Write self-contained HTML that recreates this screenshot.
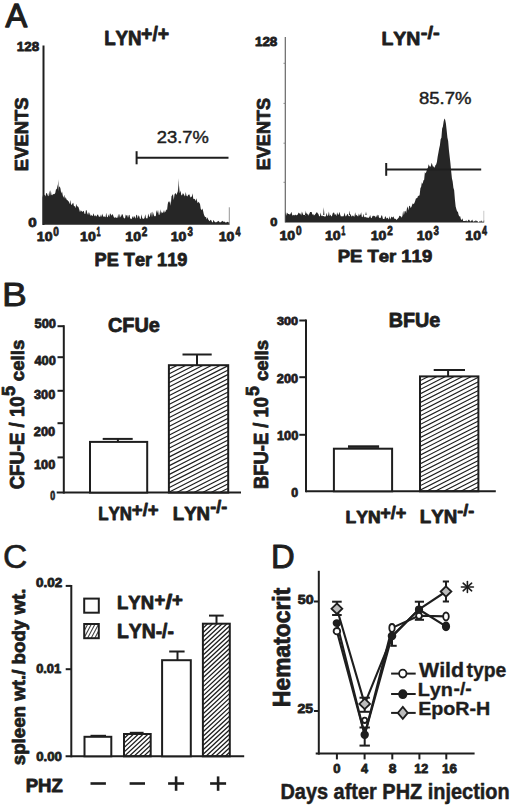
<!DOCTYPE html>
<html><head><meta charset="utf-8"><style>
html,body{margin:0;padding:0;background:#fff;overflow:hidden;width:520px;height:805px;}
svg{display:block;}
text{font-family:"Liberation Sans",sans-serif;font-kerning:none;}
</style></head><body>
<svg width="520" height="805" viewBox="0 0 520 805">
<rect width="520" height="805" fill="#fff"/>
<text transform="translate(5.39 27.05) scale(0.9660 1)" font-size="33.72" font-weight="normal" fill="#1e1e1e" stroke="#1e1e1e" stroke-width="1.30" stroke-linejoin="round">A</text>
<text transform="translate(104.15 45.20) scale(0.9704 1)" font-size="19.33" font-weight="bold" fill="#1e1e1e" stroke="#1e1e1e" stroke-width="0.80" stroke-linejoin="round">LYN</text>
<text transform="translate(141.08 40.70) scale(0.9714 1)" font-size="20.01" font-weight="bold" fill="#1e1e1e" stroke="#1e1e1e" stroke-width="0.80" stroke-linejoin="round">+/+</text>
<text transform="translate(16.86 50.77) scale(1.0312 1)" font-size="12.99" font-weight="bold" fill="#1e1e1e" stroke="#1e1e1e" stroke-width="0.80" stroke-linejoin="round">128</text>
<text transform="translate(28.12 171.13) rotate(-90) scale(0.9827 1)" font-size="18.79" font-weight="bold" fill="#1e1e1e" stroke="#1e1e1e" stroke-width="0.80" stroke-linejoin="round">EVENTS</text>
<text transform="translate(28.30 226.77) scale(1.1651 1)" font-size="12.99" font-weight="bold" fill="#1e1e1e" stroke="#1e1e1e" stroke-width="0.80" stroke-linejoin="round">0</text>
<line x1="43.50" y1="45.50" x2="43.50" y2="225.00" stroke="#1e1e1e" stroke-width="2.00"/>
<path d="M42.50 224.80 L42.50 197.51 L43.25 193.86 L44.00 195.45 L44.75 194.48 L45.50 196.51 L46.25 192.94 L47.00 193.24 L47.75 195.42 L48.50 196.15 L49.25 190.51 L50.00 196.00 L50.75 189.98 L51.50 195.12 L52.25 195.19 L53.00 194.06 L53.75 194.20 L54.50 193.94 L55.25 192.93 L56.00 189.33 L56.75 189.21 L57.50 184.32 L58.25 191.65 L59.00 187.38 L59.75 186.18 L60.50 188.78 L61.25 193.61 L62.00 191.25 L62.75 195.25 L63.50 197.74 L64.25 194.81 L65.00 198.88 L65.75 197.03 L66.50 199.55 L67.25 200.04 L68.00 200.67 L68.75 201.56 L69.50 204.29 L70.25 199.94 L71.00 204.31 L71.75 204.94 L72.50 203.47 L73.25 202.81 L74.00 206.22 L74.75 205.88 L75.50 208.32 L76.25 203.82 L77.00 206.47 L77.75 206.16 L78.50 207.19 L79.25 209.43 L80.00 212.37 L80.75 210.18 L81.50 210.97 L82.25 211.96 L83.00 211.26 L83.75 210.84 L84.50 213.85 L85.25 213.96 L86.00 209.86 L86.75 210.80 L87.50 214.64 L88.25 212.04 L89.00 215.34 L89.75 212.22 L90.50 215.97 L91.25 214.87 L92.00 215.92 L92.75 215.82 L93.50 213.13 L94.25 215.51 L95.00 216.42 L95.75 215.01 L96.50 216.73 L97.25 214.68 L98.00 214.52 L98.75 216.57 L99.50 216.83 L100.25 216.85 L101.00 214.17 L101.75 216.97 L102.50 213.43 L103.25 216.91 L104.00 216.20 L104.75 216.66 L105.50 217.37 L106.25 212.63 L107.00 217.09 L107.75 217.19 L108.50 214.37 L109.25 217.02 L110.00 213.25 L110.75 214.34 L111.50 215.67 L112.25 214.10 L113.00 215.10 L113.75 216.98 L114.50 217.91 L115.25 216.71 L116.00 218.26 L116.75 217.60 L117.50 217.75 L118.25 213.83 L119.00 217.96 L119.75 213.75 L120.50 217.47 L121.25 216.12 L122.00 214.07 L122.75 214.70 L123.50 217.42 L124.25 218.36 L125.00 218.46 L125.75 214.41 L126.50 215.75 L127.25 215.10 L128.00 217.91 L128.75 215.16 L129.50 214.74 L130.25 218.84 L131.00 218.59 L131.75 219.15 L132.50 215.92 L133.25 218.21 L134.00 215.69 L134.75 216.88 L135.50 218.77 L136.25 215.05 L137.00 214.74 L137.75 218.56 L138.50 215.16 L139.25 216.22 L140.00 219.08 L140.75 218.77 L141.50 214.13 L142.25 218.52 L143.00 218.48 L143.75 218.91 L144.50 218.00 L145.25 214.36 L146.00 218.10 L146.75 218.59 L147.50 218.26 L148.25 213.57 L149.00 216.28 L149.75 217.22 L150.50 213.54 L151.25 212.05 L152.00 217.29 L152.75 211.45 L153.50 213.93 L154.25 216.46 L155.00 215.84 L155.75 216.52 L156.50 209.96 L157.25 212.98 L158.00 209.82 L158.75 214.73 L159.50 214.75 L160.25 209.37 L161.00 213.72 L161.75 211.56 L162.50 212.99 L163.25 212.58 L164.00 210.02 L164.75 212.69 L165.50 211.38 L166.25 209.34 L167.00 210.47 L167.75 204.08 L168.50 201.23 L169.25 202.82 L170.00 200.82 L170.75 205.87 L171.50 196.21 L172.25 195.14 L173.00 194.07 L173.75 199.94 L174.50 194.49 L175.25 193.23 L176.00 193.50 L176.75 195.07 L177.50 191.25 L178.25 194.54 L179.00 185.54 L179.75 193.14 L180.50 190.50 L181.25 194.91 L182.00 195.58 L182.75 193.26 L183.50 193.76 L184.25 195.36 L185.00 196.53 L185.75 192.08 L186.50 195.71 L187.25 196.45 L188.00 195.24 L188.75 194.48 L189.50 194.55 L190.25 197.64 L191.00 196.30 L191.75 197.17 L192.50 193.37 L193.25 198.47 L194.00 199.19 L194.75 198.70 L195.50 201.26 L196.25 198.35 L197.00 200.64 L197.75 203.14 L198.50 201.69 L199.25 202.87 L200.00 203.93 L200.75 208.85 L201.50 210.30 L202.25 208.39 L203.00 210.38 L203.75 214.02 L204.50 215.95 L205.25 217.37 L206.00 216.67 L206.75 219.38 L207.50 217.31 L208.25 219.49 L209.00 220.54 L209.75 221.31 L210.50 219.67 L211.25 220.37 L212.00 222.05 L212.75 222.46 L213.50 219.84 L214.25 221.23 L215.00 222.14 L215.75 222.25 L216.50 222.17 L217.25 221.51 L218.00 221.46 L218.75 220.71 L219.50 222.15 L220.25 222.21 L221.00 222.31 L221.75 221.33 L222.50 220.69 L223.25 222.06 L224.00 221.30 L224.75 221.94 L225.50 222.59 L226.25 222.56 L227.00 222.10 L227.75 221.66 L228.50 222.42 L229.25 221.69 L229.60 224.80 Z" fill="#262626" stroke="none" stroke-width="0.00"/>
<path d="M177.7 196 L178.4 178.3 L179.1 196 Z" fill="#262626" stroke="none" stroke-width="0.00"/>
<path d="M57.6 192 L58.2 179.5 L58.8 192 Z" fill="#262626" stroke="none" stroke-width="0.00"/>
<line x1="229.30" y1="207.30" x2="229.30" y2="224.50" stroke="#8a8a8a" stroke-width="0.90"/>
<line x1="136.60" y1="151.20" x2="136.60" y2="164.30" stroke="#1e1e1e" stroke-width="2.00"/>
<line x1="136.60" y1="157.70" x2="228.50" y2="157.70" stroke="#1e1e1e" stroke-width="2.00"/>
<text transform="translate(156.70 142.71) scale(1.1173 1)" font-size="16.45" font-weight="normal" fill="#1e1e1e" stroke="#1e1e1e" stroke-width="0.45" stroke-linejoin="round">23.7%</text>
<text transform="translate(36.81 241.07) scale(1.0721 1)" font-size="13.14" font-weight="bold" fill="#1e1e1e" stroke="#1e1e1e" stroke-width="0.80" stroke-linejoin="round">10</text>
<text transform="translate(53.30 235.78) scale(0.7940 1)" font-size="12.71" font-weight="bold" fill="#1e1e1e" stroke="#1e1e1e" stroke-width="0.80" stroke-linejoin="round">0</text>
<text transform="translate(80.11 241.07) scale(1.0721 1)" font-size="13.14" font-weight="bold" fill="#1e1e1e" stroke="#1e1e1e" stroke-width="0.80" stroke-linejoin="round">10</text>
<text transform="translate(96.54 235.90) scale(0.5585 1)" font-size="13.08" font-weight="bold" fill="#1e1e1e" stroke="#1e1e1e" stroke-width="0.80" stroke-linejoin="round">1</text>
<text transform="translate(125.31 241.07) scale(1.0721 1)" font-size="13.14" font-weight="bold" fill="#1e1e1e" stroke="#1e1e1e" stroke-width="0.80" stroke-linejoin="round">10</text>
<text transform="translate(141.85 235.90) scale(0.7735 1)" font-size="12.89" font-weight="bold" fill="#1e1e1e" stroke="#1e1e1e" stroke-width="0.80" stroke-linejoin="round">2</text>
<text transform="translate(170.71 241.07) scale(1.0721 1)" font-size="13.14" font-weight="bold" fill="#1e1e1e" stroke="#1e1e1e" stroke-width="0.80" stroke-linejoin="round">10</text>
<text transform="translate(187.38 235.76) scale(0.7612 1)" font-size="12.69" font-weight="bold" fill="#1e1e1e" stroke="#1e1e1e" stroke-width="0.80" stroke-linejoin="round">3</text>
<text transform="translate(218.71 241.07) scale(1.0721 1)" font-size="13.14" font-weight="bold" fill="#1e1e1e" stroke="#1e1e1e" stroke-width="0.80" stroke-linejoin="round">10</text>
<text transform="translate(235.46 235.90) scale(0.6850 1)" font-size="13.08" font-weight="bold" fill="#1e1e1e" stroke="#1e1e1e" stroke-width="0.80" stroke-linejoin="round">4</text>
<text transform="translate(94.59 265.62) scale(1.0114 1)" font-size="17.94" font-weight="bold" fill="#1e1e1e" stroke="#1e1e1e" stroke-width="0.80" stroke-linejoin="round">PE Ter 119</text>
<text transform="translate(381.40 45.00) scale(1.0297 1)" font-size="18.90" font-weight="bold" fill="#1e1e1e" stroke="#1e1e1e" stroke-width="0.80" stroke-linejoin="round">LYN</text>
<text transform="translate(420.71 38.72) scale(1.0478 1)" font-size="19.20" font-weight="bold" fill="#1e1e1e" stroke="#1e1e1e" stroke-width="0.80" stroke-linejoin="round">-/-</text>
<text transform="translate(254.96 46.38) scale(1.1294 1)" font-size="11.86" font-weight="bold" fill="#1e1e1e" stroke="#1e1e1e" stroke-width="0.80" stroke-linejoin="round">128</text>
<text transform="translate(270.22 170.21) rotate(-90) scale(0.9755 1)" font-size="18.50" font-weight="bold" fill="#1e1e1e" stroke="#1e1e1e" stroke-width="0.80" stroke-linejoin="round">EVENTS</text>
<text transform="translate(270.29 226.49) scale(1.1351 1)" font-size="11.30" font-weight="bold" fill="#1e1e1e" stroke="#1e1e1e" stroke-width="0.80" stroke-linejoin="round">0</text>
<line x1="285.30" y1="37.00" x2="285.30" y2="222.50" stroke="#666" stroke-width="1.20"/>
<line x1="283.50" y1="63.30" x2="285.30" y2="63.30" stroke="#888" stroke-width="1.00"/>
<line x1="283.50" y1="103.40" x2="285.30" y2="103.40" stroke="#888" stroke-width="1.00"/>
<line x1="283.50" y1="143.20" x2="285.30" y2="143.20" stroke="#888" stroke-width="1.00"/>
<line x1="283.50" y1="182.30" x2="285.30" y2="182.30" stroke="#888" stroke-width="1.00"/>
<path d="M285.40 222.60 L285.40 211.67 L286.15 215.72 L286.90 212.57 L287.65 213.50 L288.40 214.08 L289.15 213.96 L289.90 214.87 L290.65 213.61 L291.40 211.67 L292.15 214.75 L292.90 215.70 L293.65 214.70 L294.40 215.41 L295.15 214.57 L295.90 215.37 L296.65 215.17 L297.40 214.93 L298.15 213.56 L298.90 212.47 L299.65 213.66 L300.40 213.41 L301.15 215.61 L301.90 211.60 L302.65 213.44 L303.40 214.93 L304.15 215.05 L304.90 214.95 L305.65 215.60 L306.40 212.27 L307.15 214.69 L307.90 213.52 L308.65 215.70 L309.40 213.49 L310.15 212.10 L310.90 212.10 L311.65 211.97 L312.40 214.81 L313.15 214.06 L313.90 215.42 L314.65 215.04 L315.40 213.93 L316.15 213.05 L316.90 212.07 L317.65 213.18 L318.40 213.90 L319.15 216.14 L319.90 216.18 L320.65 212.52 L321.40 216.21 L322.15 215.39 L322.90 216.19 L323.65 216.05 L324.40 216.51 L325.15 216.45 L325.90 216.17 L326.65 212.80 L327.40 216.23 L328.15 215.21 L328.90 211.38 L329.65 216.26 L330.40 214.49 L331.15 216.19 L331.90 216.36 L332.65 213.51 L333.40 212.49 L334.15 212.78 L334.90 214.99 L335.65 213.99 L336.40 216.34 L337.15 212.34 L337.90 214.51 L338.65 214.76 L339.40 211.71 L340.15 214.43 L340.90 216.55 L341.65 216.13 L342.40 216.35 L343.15 216.59 L343.90 215.41 L344.65 212.49 L345.40 216.24 L346.15 216.29 L346.90 214.71 L347.65 213.85 L348.40 215.66 L349.15 216.45 L349.90 215.52 L350.65 213.82 L351.40 216.52 L352.15 216.28 L352.90 215.26 L353.65 216.32 L354.40 216.80 L355.15 212.34 L355.90 215.79 L356.65 214.77 L357.40 215.91 L358.15 216.48 L358.90 213.53 L359.65 215.71 L360.40 214.86 L361.15 212.19 L361.90 217.30 L362.65 217.07 L363.40 213.79 L364.15 217.38 L364.90 216.47 L365.65 217.32 L366.40 217.46 L367.15 217.13 L367.90 217.89 L368.65 217.65 L369.40 216.99 L370.15 214.95 L370.90 217.75 L371.65 218.32 L372.40 216.32 L373.15 215.53 L373.90 216.29 L374.65 215.80 L375.40 217.77 L376.15 215.35 L376.90 217.21 L377.65 214.70 L378.40 215.01 L379.15 218.24 L379.90 217.60 L380.65 218.17 L381.40 215.32 L382.15 215.81 L382.90 218.76 L383.65 219.00 L384.40 218.94 L385.15 216.07 L385.90 217.15 L386.65 218.70 L387.40 217.47 L388.15 218.49 L388.90 219.39 L389.65 215.97 L390.40 219.50 L391.15 217.31 L391.90 216.44 L392.65 217.65 L393.40 216.13 L394.15 218.34 L394.90 218.91 L395.65 218.86 L396.40 220.12 L397.15 219.26 L397.90 218.59 L398.65 217.83 L399.40 215.39 L400.15 216.50 L400.90 215.89 L401.65 217.68 L402.40 216.12 L403.15 210.84 L403.90 215.25 L404.65 211.29 L405.40 210.73 L406.15 212.92 L406.90 208.44 L407.65 206.32 L408.40 210.55 L409.15 205.96 L409.90 205.75 L410.65 208.08 L411.40 207.11 L412.15 204.84 L412.90 203.24 L413.65 204.22 L414.40 202.94 L415.15 200.96 L415.90 198.55 L416.65 198.37 L417.40 197.64 L418.15 195.39 L418.90 196.23 L419.65 194.72 L420.40 188.31 L421.15 186.84 L421.90 182.29 L422.65 183.90 L423.40 180.43 L424.15 179.82 L424.90 172.02 L425.65 173.41 L426.40 171.39 L427.15 168.91 L427.90 167.69 L428.65 164.34 L429.40 165.98 L430.15 167.11 L430.90 165.67 L431.65 162.75 L432.40 165.08 L433.15 167.28 L433.90 166.10 L434.65 167.90 L435.40 165.25 L436.15 164.62 L436.90 161.91 L437.65 156.75 L438.40 152.77 L439.15 148.47 L439.90 145.18 L440.65 139.18 L441.40 137.84 L442.15 128.55 L442.90 126.60 L443.65 121.44 L444.40 118.60 L445.15 119.72 L445.90 123.56 L446.65 130.23 L447.40 137.47 L448.15 140.99 L448.90 149.90 L449.65 156.50 L450.40 163.01 L451.15 171.10 L451.90 178.30 L452.65 181.50 L453.40 187.78 L454.15 190.34 L454.90 199.51 L455.65 206.38 L456.40 209.15 L457.15 211.44 L457.90 211.82 L458.65 214.88 L459.40 216.56 L460.15 216.23 L460.90 219.17 L461.65 219.99 L462.40 218.26 L463.15 221.06 L463.90 221.07 L464.65 221.06 L465.40 221.04 L466.15 220.28 L466.90 221.20 L467.65 221.27 L468.40 219.67 L469.15 219.82 L469.90 221.07 L470.65 221.46 L471.40 220.67 L472.15 219.44 L472.90 221.23 L473.65 221.68 L474.40 221.02 L475.15 221.44 L475.90 220.06 L476.65 221.30 L477.40 220.95 L478.15 222.13 L478.90 222.10 L479.65 221.15 L480.40 221.78 L481.15 220.31 L481.90 221.83 L482.65 221.67 L483.40 220.77 L484.15 220.19 L484.20 222.60 Z" fill="#262626" stroke="none" stroke-width="0.00"/>
<path d="M323.20 215 L323.80 207.30 L324.40 215 Z" fill="#262626" stroke="none" stroke-width="0.00"/>
<path d="M304.90 215 L305.50 210.50 L306.10 215 Z" fill="#262626" stroke="none" stroke-width="0.00"/>
<path d="M348.90 215 L349.50 210.80 L350.10 215 Z" fill="#262626" stroke="none" stroke-width="0.00"/>
<path d="M365.40 215 L366.00 211.50 L366.60 215 Z" fill="#262626" stroke="none" stroke-width="0.00"/>
<line x1="483.80" y1="210.80" x2="483.80" y2="222.00" stroke="#c4c4c4" stroke-width="0.90"/>
<line x1="386.20" y1="163.00" x2="386.20" y2="175.80" stroke="#1e1e1e" stroke-width="2.00"/>
<line x1="386.20" y1="169.50" x2="481.20" y2="169.50" stroke="#1e1e1e" stroke-width="2.00"/>
<text transform="translate(419.02 103.62) scale(1.1553 1)" font-size="16.03" font-weight="normal" fill="#1e1e1e" stroke="#1e1e1e" stroke-width="0.45" stroke-linejoin="round">85.7%</text>
<text transform="translate(279.51 240.47) scale(1.0607 1)" font-size="13.28" font-weight="bold" fill="#1e1e1e" stroke="#1e1e1e" stroke-width="0.80" stroke-linejoin="round">10</text>
<text transform="translate(296.00 235.28) scale(0.7940 1)" font-size="12.71" font-weight="bold" fill="#1e1e1e" stroke="#1e1e1e" stroke-width="0.80" stroke-linejoin="round">0</text>
<text transform="translate(324.91 240.47) scale(1.0607 1)" font-size="13.28" font-weight="bold" fill="#1e1e1e" stroke="#1e1e1e" stroke-width="0.80" stroke-linejoin="round">10</text>
<text transform="translate(341.34 235.40) scale(0.5585 1)" font-size="13.08" font-weight="bold" fill="#1e1e1e" stroke="#1e1e1e" stroke-width="0.80" stroke-linejoin="round">1</text>
<text transform="translate(370.71 240.47) scale(1.0607 1)" font-size="13.28" font-weight="bold" fill="#1e1e1e" stroke="#1e1e1e" stroke-width="0.80" stroke-linejoin="round">10</text>
<text transform="translate(387.25 235.40) scale(0.7735 1)" font-size="12.89" font-weight="bold" fill="#1e1e1e" stroke="#1e1e1e" stroke-width="0.80" stroke-linejoin="round">2</text>
<text transform="translate(416.81 240.47) scale(1.0607 1)" font-size="13.28" font-weight="bold" fill="#1e1e1e" stroke="#1e1e1e" stroke-width="0.80" stroke-linejoin="round">10</text>
<text transform="translate(433.48 235.26) scale(0.7612 1)" font-size="12.69" font-weight="bold" fill="#1e1e1e" stroke="#1e1e1e" stroke-width="0.80" stroke-linejoin="round">3</text>
<text transform="translate(465.31 240.47) scale(1.0607 1)" font-size="13.28" font-weight="bold" fill="#1e1e1e" stroke="#1e1e1e" stroke-width="0.80" stroke-linejoin="round">10</text>
<text transform="translate(482.06 235.40) scale(0.6850 1)" font-size="13.08" font-weight="bold" fill="#1e1e1e" stroke="#1e1e1e" stroke-width="0.80" stroke-linejoin="round">4</text>
<text transform="translate(337.66 261.64) scale(1.1008 1)" font-size="16.81" font-weight="bold" fill="#1e1e1e" stroke="#1e1e1e" stroke-width="0.80" stroke-linejoin="round">PE Ter 119</text>
<text transform="translate(2.05 305.80) scale(1.1477 1)" font-size="32.41" font-weight="normal" fill="#1e1e1e" stroke="#1e1e1e" stroke-width="0.80" stroke-linejoin="round">B</text>
<line x1="63.80" y1="325.20" x2="63.80" y2="493.60" stroke="#1e1e1e" stroke-width="2.00"/>
<line x1="56.70" y1="492.60" x2="241.00" y2="492.60" stroke="#1e1e1e" stroke-width="2.00"/>
<line x1="57.50" y1="326.20" x2="63.80" y2="326.20" stroke="#1e1e1e" stroke-width="2.00"/>
<line x1="57.50" y1="357.20" x2="63.80" y2="357.20" stroke="#1e1e1e" stroke-width="2.00"/>
<line x1="57.50" y1="390.80" x2="63.80" y2="390.80" stroke="#1e1e1e" stroke-width="2.00"/>
<line x1="57.50" y1="423.20" x2="63.80" y2="423.20" stroke="#1e1e1e" stroke-width="2.00"/>
<line x1="57.50" y1="457.40" x2="63.80" y2="457.40" stroke="#1e1e1e" stroke-width="2.00"/>
<text transform="translate(34.51 327.57) scale(0.9881 1)" font-size="12.99" font-weight="bold" fill="#1e1e1e" stroke="#1e1e1e" stroke-width="0.80" stroke-linejoin="round">500</text>
<text transform="translate(34.41 364.67) scale(0.9670 1)" font-size="13.28" font-weight="bold" fill="#1e1e1e" stroke="#1e1e1e" stroke-width="0.80" stroke-linejoin="round">400</text>
<text transform="translate(34.01 398.75) scale(0.9805 1)" font-size="12.97" font-weight="bold" fill="#1e1e1e" stroke="#1e1e1e" stroke-width="0.80" stroke-linejoin="round">300</text>
<text transform="translate(33.86 435.57) scale(0.9965 1)" font-size="12.85" font-weight="bold" fill="#1e1e1e" stroke="#1e1e1e" stroke-width="0.80" stroke-linejoin="round">200</text>
<text transform="translate(34.00 468.88) scale(1.0472 1)" font-size="12.15" font-weight="bold" fill="#1e1e1e" stroke="#1e1e1e" stroke-width="0.80" stroke-linejoin="round">100</text>
<text transform="translate(50.15 499.98) scale(0.7105 1)" font-size="12.43" font-weight="bold" fill="#1e1e1e" stroke="#1e1e1e" stroke-width="0.80" stroke-linejoin="round">0</text>
<rect x="90.00" y="441.90" width="57.20" height="50.70" fill="#fff" stroke="#1e1e1e" stroke-width="2.00"/>
<line x1="117.90" y1="438.90" x2="117.90" y2="441.90" stroke="#1e1e1e" stroke-width="2.00"/>
<line x1="102.70" y1="438.90" x2="132.70" y2="438.90" stroke="#1e1e1e" stroke-width="2.00"/>
<line x1="197.00" y1="354.50" x2="197.00" y2="365.20" stroke="#1e1e1e" stroke-width="2.00"/>
<line x1="182.50" y1="354.50" x2="211.70" y2="354.50" stroke="#1e1e1e" stroke-width="2.00"/>
<clipPath id="hb1"><rect x="168.90" y="365.20" width="59.30" height="127.40"/></clipPath>
<path clip-path="url(#hb1)" d="M168.90 365.20 L228.20 334.99 M168.90 369.58 L228.20 339.36 M168.90 373.95 L228.20 343.74 M168.90 378.33 L228.20 348.12 M168.90 382.71 L228.20 352.49 M168.90 387.09 L228.20 356.87 M168.90 391.46 L228.20 361.25 M168.90 395.84 L228.20 365.62 M168.90 400.22 L228.20 370.00 M168.90 404.59 L228.20 374.38 M168.90 408.97 L228.20 378.76 M168.90 413.35 L228.20 383.13 M168.90 417.72 L228.20 387.51 M168.90 422.10 L228.20 391.89 M168.90 426.48 L228.20 396.26 M168.90 430.86 L228.20 400.64 M168.90 435.23 L228.20 405.02 M168.90 439.61 L228.20 409.40 M168.90 443.99 L228.20 413.77 M168.90 448.36 L228.20 418.15 M168.90 452.74 L228.20 422.53 M168.90 457.12 L228.20 426.90 M168.90 461.50 L228.20 431.28 M168.90 465.87 L228.20 435.66 M168.90 470.25 L228.20 440.03 M168.90 474.63 L228.20 444.41 M168.90 479.00 L228.20 448.79 M168.90 483.38 L228.20 453.17 M168.90 487.76 L228.20 457.54 M168.90 492.14 L228.20 461.92 M168.90 496.51 L228.20 466.30 M168.90 500.89 L228.20 470.67 M168.90 505.27 L228.20 475.05 M168.90 509.64 L228.20 479.43 M168.90 514.02 L228.20 483.81 M168.90 518.40 L228.20 488.18 M168.90 522.77 L228.20 492.56 M168.90 527.15 L228.20 496.94" stroke="#1e1e1e" stroke-width="1.15" fill="none"/>
<rect x="168.90" y="365.20" width="59.30" height="127.40" fill="none" stroke="#1e1e1e" stroke-width="2.00"/>
<text transform="translate(107.88 332.01) scale(1.0070 1)" font-size="19.77" font-weight="bold" fill="#1e1e1e" stroke="#1e1e1e" stroke-width="0.80" stroke-linejoin="round">CFUe</text>
<text transform="translate(23.90 489.36) rotate(-90) scale(0.9588 1)" font-size="19.40" font-weight="bold" fill="#1e1e1e" stroke="#1e1e1e" stroke-width="0.80" stroke-linejoin="round">CFU-E / 10</text>
<text transform="translate(15.03 396.06) rotate(-90) scale(1.0097 1)" font-size="17.91" font-weight="bold" fill="#1e1e1e" stroke="#1e1e1e" stroke-width="0.80" stroke-linejoin="round">5</text>
<text transform="translate(24.40 381.13) rotate(-90) scale(0.9940 1)" font-size="18.77" font-weight="bold" fill="#1e1e1e" stroke="#1e1e1e" stroke-width="0.80" stroke-linejoin="round">cells</text>
<text transform="translate(98.27 520.00) scale(0.9600 1)" font-size="17.59" font-weight="bold" fill="#1e1e1e" stroke="#1e1e1e" stroke-width="0.80" stroke-linejoin="round">LYN</text>
<text transform="translate(131.82 515.82) scale(0.9732 1)" font-size="19.07" font-weight="bold" fill="#1e1e1e" stroke="#1e1e1e" stroke-width="0.80" stroke-linejoin="round">+/+</text>
<text transform="translate(172.75 520.30) scale(1.0433 1)" font-size="17.88" font-weight="bold" fill="#1e1e1e" stroke="#1e1e1e" stroke-width="0.80" stroke-linejoin="round">LYN</text>
<text transform="translate(210.20 513.25) scale(1.0267 1)" font-size="17.46" font-weight="bold" fill="#1e1e1e" stroke="#1e1e1e" stroke-width="0.80" stroke-linejoin="round">-/-</text>
<line x1="306.00" y1="319.60" x2="306.00" y2="492.30" stroke="#1e1e1e" stroke-width="2.00"/>
<line x1="306.00" y1="491.30" x2="495.80" y2="491.30" stroke="#1e1e1e" stroke-width="2.00"/>
<line x1="299.30" y1="320.50" x2="306.00" y2="320.50" stroke="#1e1e1e" stroke-width="2.00"/>
<line x1="299.30" y1="377.20" x2="306.00" y2="377.20" stroke="#1e1e1e" stroke-width="2.00"/>
<line x1="299.30" y1="434.80" x2="306.00" y2="434.80" stroke="#1e1e1e" stroke-width="2.00"/>
<text transform="translate(277.01 325.47) scale(1.0686 1)" font-size="11.84" font-weight="bold" fill="#1e1e1e" stroke="#1e1e1e" stroke-width="0.80" stroke-linejoin="round">300</text>
<text transform="translate(276.86 383.08) scale(1.0742 1)" font-size="11.86" font-weight="bold" fill="#1e1e1e" stroke="#1e1e1e" stroke-width="0.80" stroke-linejoin="round">200</text>
<text transform="translate(276.89 439.88) scale(1.0221 1)" font-size="12.57" font-weight="bold" fill="#1e1e1e" stroke="#1e1e1e" stroke-width="0.80" stroke-linejoin="round">100</text>
<text transform="translate(291.21 496.68) scale(1.0096 1)" font-size="12.29" font-weight="bold" fill="#1e1e1e" stroke="#1e1e1e" stroke-width="0.80" stroke-linejoin="round">0</text>
<rect x="333.90" y="448.70" width="58.20" height="42.60" fill="#fff" stroke="#1e1e1e" stroke-width="2.00"/>
<line x1="348.00" y1="446.60" x2="379.10" y2="446.60" stroke="#1e1e1e" stroke-width="2.60"/>
<line x1="448.10" y1="370.00" x2="448.10" y2="376.40" stroke="#1e1e1e" stroke-width="2.00"/>
<line x1="433.70" y1="370.00" x2="465.00" y2="370.00" stroke="#1e1e1e" stroke-width="2.00"/>
<clipPath id="hb2"><rect x="420.00" y="376.40" width="58.40" height="114.90"/></clipPath>
<path clip-path="url(#hb2)" d="M420.00 376.40 L478.40 346.64 M420.00 380.78 L478.40 351.02 M420.00 385.15 L478.40 355.40 M420.00 389.53 L478.40 359.77 M420.00 393.91 L478.40 364.15 M420.00 398.29 L478.40 368.53 M420.00 402.66 L478.40 372.91 M420.00 407.04 L478.40 377.28 M420.00 411.42 L478.40 381.66 M420.00 415.79 L478.40 386.04 M420.00 420.17 L478.40 390.41 M420.00 424.55 L478.40 394.79 M420.00 428.92 L478.40 399.17 M420.00 433.30 L478.40 403.55 M420.00 437.68 L478.40 407.92 M420.00 442.06 L478.40 412.30 M420.00 446.43 L478.40 416.68 M420.00 450.81 L478.40 421.05 M420.00 455.19 L478.40 425.43 M420.00 459.56 L478.40 429.81 M420.00 463.94 L478.40 434.19 M420.00 468.32 L478.40 438.56 M420.00 472.70 L478.40 442.94 M420.00 477.07 L478.40 447.32 M420.00 481.45 L478.40 451.69 M420.00 485.83 L478.40 456.07 M420.00 490.20 L478.40 460.45 M420.00 494.58 L478.40 464.82 M420.00 498.96 L478.40 469.20 M420.00 503.34 L478.40 473.58 M420.00 507.71 L478.40 477.96 M420.00 512.09 L478.40 482.33 M420.00 516.47 L478.40 486.71 M420.00 520.84 L478.40 491.09 M420.00 525.22 L478.40 495.46" stroke="#1e1e1e" stroke-width="1.15" fill="none"/>
<rect x="420.00" y="376.40" width="58.40" height="114.90" fill="none" stroke="#1e1e1e" stroke-width="2.00"/>
<text transform="translate(388.78 326.71) scale(1.0192 1)" font-size="19.35" font-weight="bold" fill="#1e1e1e" stroke="#1e1e1e" stroke-width="0.80" stroke-linejoin="round">BFUe</text>
<text transform="translate(267.80 488.93) rotate(-90) scale(0.9481 1)" font-size="19.40" font-weight="bold" fill="#1e1e1e" stroke="#1e1e1e" stroke-width="0.80" stroke-linejoin="round">BFU-E / 10</text>
<text transform="translate(259.12 396.04) rotate(-90) scale(0.9717 1)" font-size="18.20" font-weight="bold" fill="#1e1e1e" stroke="#1e1e1e" stroke-width="0.80" stroke-linejoin="round">5</text>
<text transform="translate(267.70 381.12) rotate(-90) scale(0.9866 1)" font-size="18.77" font-weight="bold" fill="#1e1e1e" stroke="#1e1e1e" stroke-width="0.80" stroke-linejoin="round">cells</text>
<text transform="translate(345.53 522.80) scale(1.0577 1)" font-size="16.57" font-weight="bold" fill="#1e1e1e" stroke="#1e1e1e" stroke-width="0.80" stroke-linejoin="round">LYN</text>
<text transform="translate(380.24 519.03) scale(0.9776 1)" font-size="18.53" font-weight="bold" fill="#1e1e1e" stroke="#1e1e1e" stroke-width="0.80" stroke-linejoin="round">+/+</text>
<text transform="translate(419.75 523.30) scale(1.0463 1)" font-size="17.88" font-weight="bold" fill="#1e1e1e" stroke="#1e1e1e" stroke-width="0.80" stroke-linejoin="round">LYN</text>
<text transform="translate(457.20 516.27) scale(1.0764 1)" font-size="16.65" font-weight="bold" fill="#1e1e1e" stroke="#1e1e1e" stroke-width="0.80" stroke-linejoin="round">-/-</text>
<text transform="translate(2.89 567.87) scale(0.9881 1)" font-size="34.04" font-weight="normal" fill="#1e1e1e" stroke="#1e1e1e" stroke-width="0.60" stroke-linejoin="round">C</text>
<line x1="71.30" y1="585.00" x2="71.30" y2="757.30" stroke="#1e1e1e" stroke-width="2.00"/>
<line x1="65.60" y1="756.30" x2="244.20" y2="756.30" stroke="#1e1e1e" stroke-width="2.00"/>
<line x1="65.70" y1="585.90" x2="71.30" y2="585.90" stroke="#1e1e1e" stroke-width="2.00"/>
<line x1="65.70" y1="669.20" x2="71.30" y2="669.20" stroke="#1e1e1e" stroke-width="2.00"/>
<text transform="translate(36.12 587.28) scale(1.0840 1)" font-size="12.43" font-weight="bold" fill="#1e1e1e" stroke="#1e1e1e" stroke-width="0.80" stroke-linejoin="round">0.02</text>
<text transform="translate(36.14 672.78) scale(1.0132 1)" font-size="12.71" font-weight="bold" fill="#1e1e1e" stroke="#1e1e1e" stroke-width="0.80" stroke-linejoin="round">0.01</text>
<text transform="translate(36.13 760.77) scale(1.0168 1)" font-size="12.99" font-weight="bold" fill="#1e1e1e" stroke="#1e1e1e" stroke-width="0.80" stroke-linejoin="round">0.00</text>
<rect x="84.50" y="736.80" width="26.80" height="19.50" fill="#fff" stroke="#1e1e1e" stroke-width="2.00"/>
<line x1="90.50" y1="735.90" x2="106.00" y2="735.90" stroke="#1e1e1e" stroke-width="2.20"/>
<line x1="129.80" y1="732.90" x2="143.60" y2="732.90" stroke="#1e1e1e" stroke-width="2.20"/>
<clipPath id="hc1"><rect x="124.00" y="734.00" width="26.70" height="22.30"/></clipPath>
<path clip-path="url(#hc1)" d="M124.00 734.00 L150.70 709.10 M124.00 738.51 L150.70 713.61 M124.00 743.02 L150.70 718.13 M124.00 747.54 L150.70 722.64 M124.00 752.05 L150.70 727.15 M124.00 756.56 L150.70 731.66 M124.00 761.07 L150.70 736.17 M124.00 765.59 L150.70 740.69 M124.00 770.10 L150.70 745.20 M124.00 774.61 L150.70 749.71 M124.00 779.12 L150.70 754.22 M124.00 783.63 L150.70 758.74" stroke="#1e1e1e" stroke-width="1.30" fill="none"/>
<rect x="124.00" y="734.00" width="26.70" height="22.30" fill="none" stroke="#1e1e1e" stroke-width="2.00"/>
<line x1="177.50" y1="651.50" x2="177.50" y2="660.20" stroke="#1e1e1e" stroke-width="2.00"/>
<line x1="169.20" y1="651.50" x2="184.60" y2="651.50" stroke="#1e1e1e" stroke-width="2.00"/>
<rect x="162.10" y="660.20" width="28.70" height="96.10" fill="#fff" stroke="#1e1e1e" stroke-width="2.00"/>
<line x1="216.50" y1="615.60" x2="216.50" y2="623.70" stroke="#1e1e1e" stroke-width="2.00"/>
<line x1="209.00" y1="615.60" x2="223.70" y2="615.60" stroke="#1e1e1e" stroke-width="2.00"/>
<clipPath id="hc2"><rect x="202.90" y="623.70" width="26.90" height="132.60"/></clipPath>
<path clip-path="url(#hc2)" d="M202.90 623.70 L229.80 598.62 M202.90 628.21 L229.80 603.13 M202.90 632.72 L229.80 607.64 M202.90 637.24 L229.80 612.15 M202.90 641.75 L229.80 616.66 M202.90 646.26 L229.80 621.18 M202.90 650.77 L229.80 625.69 M202.90 655.29 L229.80 630.20 M202.90 659.80 L229.80 634.71 M202.90 664.31 L229.80 639.22 M202.90 668.82 L229.80 643.74 M202.90 673.33 L229.80 648.25 M202.90 677.85 L229.80 652.76 M202.90 682.36 L229.80 657.27 M202.90 686.87 L229.80 661.79 M202.90 691.38 L229.80 666.30 M202.90 695.89 L229.80 670.81 M202.90 700.41 L229.80 675.32 M202.90 704.92 L229.80 679.83 M202.90 709.43 L229.80 684.35 M202.90 713.94 L229.80 688.86 M202.90 718.46 L229.80 693.37 M202.90 722.97 L229.80 697.88 M202.90 727.48 L229.80 702.40 M202.90 731.99 L229.80 706.91 M202.90 736.50 L229.80 711.42 M202.90 741.02 L229.80 715.93 M202.90 745.53 L229.80 720.44 M202.90 750.04 L229.80 724.96 M202.90 754.55 L229.80 729.47 M202.90 759.07 L229.80 733.98 M202.90 763.58 L229.80 738.49 M202.90 768.09 L229.80 743.01 M202.90 772.60 L229.80 747.52 M202.90 777.11 L229.80 752.03 M202.90 781.63 L229.80 756.54" stroke="#1e1e1e" stroke-width="1.30" fill="none"/>
<rect x="202.90" y="623.70" width="26.90" height="132.60" fill="none" stroke="#1e1e1e" stroke-width="2.00"/>
<rect x="84.20" y="598.60" width="14.60" height="14.10" fill="#fff" stroke="#1e1e1e" stroke-width="2.00"/>
<clipPath id="hc3"><rect x="84.20" y="624.00" width="14.60" height="14.20"/></clipPath>
<path clip-path="url(#hc3)" d="M84.20 624.00 L98.80 596.54 M84.20 630.82 L98.80 603.36 M84.20 637.63 L98.80 610.17 M84.20 644.45 L98.80 616.99 M84.20 651.26 L98.80 623.81 M84.20 658.08 L98.80 630.62 M84.20 664.90 L98.80 637.44 M84.20 671.71 L98.80 644.25" stroke="#444" stroke-width="1.10" fill="none"/>
<rect x="84.20" y="624.00" width="14.60" height="14.20" fill="none" stroke="#1e1e1e" stroke-width="2.00"/>
<text transform="translate(117.06 608.60) scale(0.9891 1)" font-size="18.75" font-weight="bold" fill="#1e1e1e" stroke="#1e1e1e" stroke-width="0.80" stroke-linejoin="round">LYN</text>
<text transform="translate(154.62 605.79) scale(1.0464 1)" font-size="17.72" font-weight="bold" fill="#1e1e1e" stroke="#1e1e1e" stroke-width="0.80" stroke-linejoin="round">+</text>
<text transform="translate(165.46 609.10) scale(1.2355 1)" font-size="19.74" font-weight="bold" fill="#1e1e1e" stroke="#1e1e1e" stroke-width="0.80" stroke-linejoin="round">/</text>
<text transform="translate(172.12 605.79) scale(1.0464 1)" font-size="17.72" font-weight="bold" fill="#1e1e1e" stroke="#1e1e1e" stroke-width="0.80" stroke-linejoin="round">+</text>
<text transform="translate(117.01 637.60) scale(0.9658 1)" font-size="20.00" font-weight="bold" fill="#1e1e1e" stroke="#1e1e1e" stroke-width="0.80" stroke-linejoin="round">LYN-/-</text>
<text transform="translate(24.50 765.26) rotate(-90) scale(0.9948 1)" font-size="18.80" font-weight="bold" fill="#1e1e1e" stroke="#1e1e1e" stroke-width="0.80" stroke-linejoin="round">spleen wt./ body wt.</text>
<text transform="translate(25.66 791.50) scale(1.0398 1)" font-size="17.88" font-weight="bold" fill="#1e1e1e" stroke="#1e1e1e" stroke-width="0.80" stroke-linejoin="round">PHZ</text>
<line x1="90.50" y1="783.50" x2="105.90" y2="783.50" stroke="#1e1e1e" stroke-width="2.60"/>
<line x1="129.60" y1="783.50" x2="145.00" y2="783.50" stroke="#1e1e1e" stroke-width="2.60"/>
<line x1="168.10" y1="783.50" x2="184.10" y2="783.50" stroke="#1e1e1e" stroke-width="2.60"/>
<line x1="176.10" y1="776.40" x2="176.10" y2="790.80" stroke="#1e1e1e" stroke-width="2.60"/>
<line x1="210.10" y1="783.50" x2="226.10" y2="783.50" stroke="#1e1e1e" stroke-width="2.60"/>
<line x1="218.10" y1="776.40" x2="218.10" y2="790.80" stroke="#1e1e1e" stroke-width="2.60"/>
<text transform="translate(270.91 568.40) scale(1.0015 1)" font-size="32.70" font-weight="normal" fill="#1e1e1e" stroke="#1e1e1e" stroke-width="1.00" stroke-linejoin="round">D</text>
<line x1="318.80" y1="570.80" x2="318.80" y2="754.60" stroke="#1e1e1e" stroke-width="2.00"/>
<line x1="315.70" y1="753.60" x2="474.60" y2="753.60" stroke="#1e1e1e" stroke-width="2.00"/>
<line x1="314.00" y1="601.50" x2="318.80" y2="601.50" stroke="#1e1e1e" stroke-width="2.00"/>
<line x1="314.00" y1="711.00" x2="318.80" y2="711.00" stroke="#1e1e1e" stroke-width="2.00"/>
<line x1="336.90" y1="753.60" x2="336.90" y2="759.40" stroke="#1e1e1e" stroke-width="2.00"/>
<line x1="364.60" y1="753.60" x2="364.60" y2="759.40" stroke="#1e1e1e" stroke-width="2.00"/>
<line x1="392.30" y1="753.60" x2="392.30" y2="759.40" stroke="#1e1e1e" stroke-width="2.00"/>
<line x1="419.40" y1="753.60" x2="419.40" y2="759.40" stroke="#1e1e1e" stroke-width="2.00"/>
<line x1="446.30" y1="753.60" x2="446.30" y2="759.40" stroke="#1e1e1e" stroke-width="2.00"/>
<text transform="translate(297.86 604.17) scale(1.1066 1)" font-size="12.85" font-weight="bold" fill="#1e1e1e" stroke="#1e1e1e" stroke-width="0.80" stroke-linejoin="round">50</text>
<text transform="translate(297.51 713.38) scale(1.1090 1)" font-size="12.71" font-weight="bold" fill="#1e1e1e" stroke="#1e1e1e" stroke-width="0.80" stroke-linejoin="round">25</text>
<text transform="translate(333.28 773.28) scale(1.0256 1)" font-size="12.71" font-weight="bold" fill="#1e1e1e" stroke="#1e1e1e" stroke-width="0.80" stroke-linejoin="round">0</text>
<text transform="translate(361.11 773.40) scale(0.9925 1)" font-size="12.79" font-weight="bold" fill="#1e1e1e" stroke="#1e1e1e" stroke-width="0.80" stroke-linejoin="round">4</text>
<text transform="translate(388.66 773.28) scale(1.0836 1)" font-size="12.71" font-weight="bold" fill="#1e1e1e" stroke="#1e1e1e" stroke-width="0.80" stroke-linejoin="round">8</text>
<text transform="translate(414.21 773.40) scale(0.9762 1)" font-size="12.89" font-weight="bold" fill="#1e1e1e" stroke="#1e1e1e" stroke-width="0.80" stroke-linejoin="round">12</text>
<text transform="translate(442.05 773.28) scale(1.0560 1)" font-size="12.71" font-weight="bold" fill="#1e1e1e" stroke="#1e1e1e" stroke-width="0.80" stroke-linejoin="round">16</text>
<text transform="translate(289.60 706.93) rotate(-90) scale(0.9930 1)" font-size="23.00" font-weight="bold" fill="#1e1e1e" stroke="#1e1e1e" stroke-width="0.80" stroke-linejoin="round">Hematocrit</text>
<text transform="translate(280.42 799.20) scale(0.9318 1)" font-size="21.40" font-weight="bold" fill="#1e1e1e" stroke="#1e1e1e" stroke-width="0.50" stroke-linejoin="round">Days after PHZ injection</text>
<line x1="336.90" y1="601.70" x2="336.90" y2="615.00" stroke="#1e1e1e" stroke-width="2.00"/>
<line x1="332.10" y1="601.70" x2="341.70" y2="601.70" stroke="#1e1e1e" stroke-width="2.00"/>
<line x1="332.10" y1="615.00" x2="341.70" y2="615.00" stroke="#1e1e1e" stroke-width="2.00"/>
<line x1="364.70" y1="697.70" x2="364.70" y2="711.80" stroke="#1e1e1e" stroke-width="2.00"/>
<line x1="359.50" y1="697.70" x2="369.90" y2="697.70" stroke="#1e1e1e" stroke-width="2.00"/>
<line x1="359.50" y1="711.80" x2="369.90" y2="711.80" stroke="#1e1e1e" stroke-width="2.00"/>
<line x1="364.70" y1="727.50" x2="364.70" y2="745.60" stroke="#1e1e1e" stroke-width="2.00"/>
<line x1="359.50" y1="727.50" x2="369.90" y2="727.50" stroke="#1e1e1e" stroke-width="2.00"/>
<line x1="359.50" y1="745.60" x2="369.90" y2="745.60" stroke="#1e1e1e" stroke-width="2.00"/>
<line x1="392.00" y1="630.00" x2="392.00" y2="645.80" stroke="#1e1e1e" stroke-width="2.00"/>
<line x1="390.30" y1="645.80" x2="396.70" y2="645.80" stroke="#1e1e1e" stroke-width="2.00"/>
<line x1="419.00" y1="601.70" x2="419.00" y2="619.80" stroke="#1e1e1e" stroke-width="2.00"/>
<line x1="414.80" y1="601.70" x2="424.00" y2="601.70" stroke="#1e1e1e" stroke-width="2.00"/>
<line x1="414.80" y1="619.80" x2="424.00" y2="619.80" stroke="#1e1e1e" stroke-width="2.00"/>
<line x1="446.00" y1="581.50" x2="446.00" y2="601.50" stroke="#1e1e1e" stroke-width="2.00"/>
<line x1="442.80" y1="581.50" x2="449.00" y2="581.50" stroke="#1e1e1e" stroke-width="2.00"/>
<line x1="442.80" y1="601.50" x2="449.00" y2="601.50" stroke="#1e1e1e" stroke-width="2.00"/>
<polyline points="336.90,608.70 364.70,703.90 392.00,636.70 419.00,609.30 446.00,591.50" fill="none" stroke="#1e1e1e" stroke-width="2.10" stroke-linejoin="round"/>
<polyline points="336.90,623.10 364.70,734.70 392.00,636.00 419.00,609.50 446.00,626.40" fill="none" stroke="#1e1e1e" stroke-width="2.10" stroke-linejoin="round"/>
<polyline points="336.90,631.20 364.70,734.70 392.00,627.90 419.00,615.80 446.00,616.40" fill="none" stroke="#1e1e1e" stroke-width="2.10" stroke-linejoin="round"/>
<path d="M336.90 603.50 L342.30 608.70 L336.90 613.90 L331.50 608.70 Z" fill="#bcbcbc" stroke="#1e1e1e" stroke-width="1.80" stroke-linejoin="miter"/>
<path d="M364.70 698.70 L370.10 703.90 L364.70 709.10 L359.30 703.90 Z" fill="#bcbcbc" stroke="#1e1e1e" stroke-width="1.80" stroke-linejoin="miter"/>
<path d="M446.00 586.30 L451.40 591.50 L446.00 596.70 L440.60 591.50 Z" fill="#bcbcbc" stroke="#1e1e1e" stroke-width="1.80" stroke-linejoin="miter"/>
<ellipse cx="336.90" cy="623.10" rx="3.35" ry="3.00" fill="#1e1e1e" stroke="#1e1e1e" stroke-width="1.8"/>
<ellipse cx="364.70" cy="734.70" rx="3.30" ry="3.30" fill="#1e1e1e" stroke="#1e1e1e" stroke-width="1.8"/>
<ellipse cx="392.00" cy="636.00" rx="3.40" ry="3.30" fill="#1e1e1e" stroke="#1e1e1e" stroke-width="1.8"/>
<ellipse cx="419.00" cy="609.50" rx="3.20" ry="3.00" fill="#1e1e1e" stroke="#1e1e1e" stroke-width="1.8"/>
<ellipse cx="446.00" cy="626.40" rx="3.20" ry="3.90" fill="#1e1e1e" stroke="#1e1e1e" stroke-width="1.8"/>
<ellipse cx="336.90" cy="631.20" rx="3.30" ry="3.20" fill="#fff" stroke="#1e1e1e" stroke-width="1.8"/>
<ellipse cx="364.70" cy="720.30" rx="2.50" ry="2.70" fill="#fff" stroke="#1e1e1e" stroke-width="1.8"/>
<ellipse cx="392.00" cy="627.90" rx="2.70" ry="3.90" fill="#fff" stroke="#1e1e1e" stroke-width="1.8"/>
<ellipse cx="419.00" cy="615.80" rx="2.90" ry="3.00" fill="#fff" stroke="#1e1e1e" stroke-width="1.8"/>
<ellipse cx="446.00" cy="616.40" rx="2.80" ry="3.90" fill="#fff" stroke="#1e1e1e" stroke-width="1.8"/>
<line x1="461.40" y1="587.00" x2="473.40" y2="587.00" stroke="#1e1e1e" stroke-width="1.6" stroke-linecap="round"/>
<line x1="463.16" y1="583.18" x2="471.64" y2="590.82" stroke="#1e1e1e" stroke-width="1.6" stroke-linecap="round"/>
<line x1="467.40" y1="581.60" x2="467.40" y2="592.40" stroke="#1e1e1e" stroke-width="1.6" stroke-linecap="round"/>
<line x1="471.64" y1="583.18" x2="463.16" y2="590.82" stroke="#1e1e1e" stroke-width="1.6" stroke-linecap="round"/>
<line x1="391.10" y1="673.60" x2="415.70" y2="673.60" stroke="#1e1e1e" stroke-width="2.00"/>
<line x1="391.10" y1="694.00" x2="415.70" y2="694.00" stroke="#1e1e1e" stroke-width="2.00"/>
<line x1="391.10" y1="712.90" x2="415.70" y2="712.90" stroke="#1e1e1e" stroke-width="2.00"/>
<ellipse cx="402.80" cy="673.60" rx="3.70" ry="3.90" fill="#fff" stroke="#1e1e1e" stroke-width="1.8"/>
<ellipse cx="402.80" cy="694.20" rx="3.70" ry="4.00" fill="#1e1e1e" stroke="#1e1e1e" stroke-width="1.8"/>
<path d="M402.80 706.90 L407.80 712.90 L402.80 718.90 L397.80 712.90 Z" fill="#bcbcbc" stroke="#1e1e1e" stroke-width="1.80" stroke-linejoin="miter"/>
<text transform="translate(418.95 676.50) scale(1.0759 1)" font-size="19.90" font-weight="bold" fill="#1e1e1e" stroke="#1e1e1e" stroke-width="0.35" stroke-linejoin="round">Wild</text>
<text transform="translate(466.54 676.50) scale(0.9739 1)" font-size="19.90" font-weight="bold" fill="#1e1e1e" stroke="#1e1e1e" stroke-width="0.35" stroke-linejoin="round">type</text>
<text transform="translate(417.65 696.20) scale(1.0678 1)" font-size="18.60" font-weight="bold" fill="#1e1e1e" stroke="#1e1e1e" stroke-width="0.35" stroke-linejoin="round">Lyn</text>
<text transform="translate(453.62 694.94) scale(0.9991 1)" font-size="19.27" font-weight="bold" fill="#1e1e1e" stroke="#1e1e1e" stroke-width="0.35" stroke-linejoin="round">-/-</text>
<text transform="translate(418.16 715.30) scale(1.1002 1)" font-size="17.90" font-weight="bold" fill="#1e1e1e" stroke="#1e1e1e" stroke-width="0.35" stroke-linejoin="round">EpoR-H</text>
</svg>
</body></html>
